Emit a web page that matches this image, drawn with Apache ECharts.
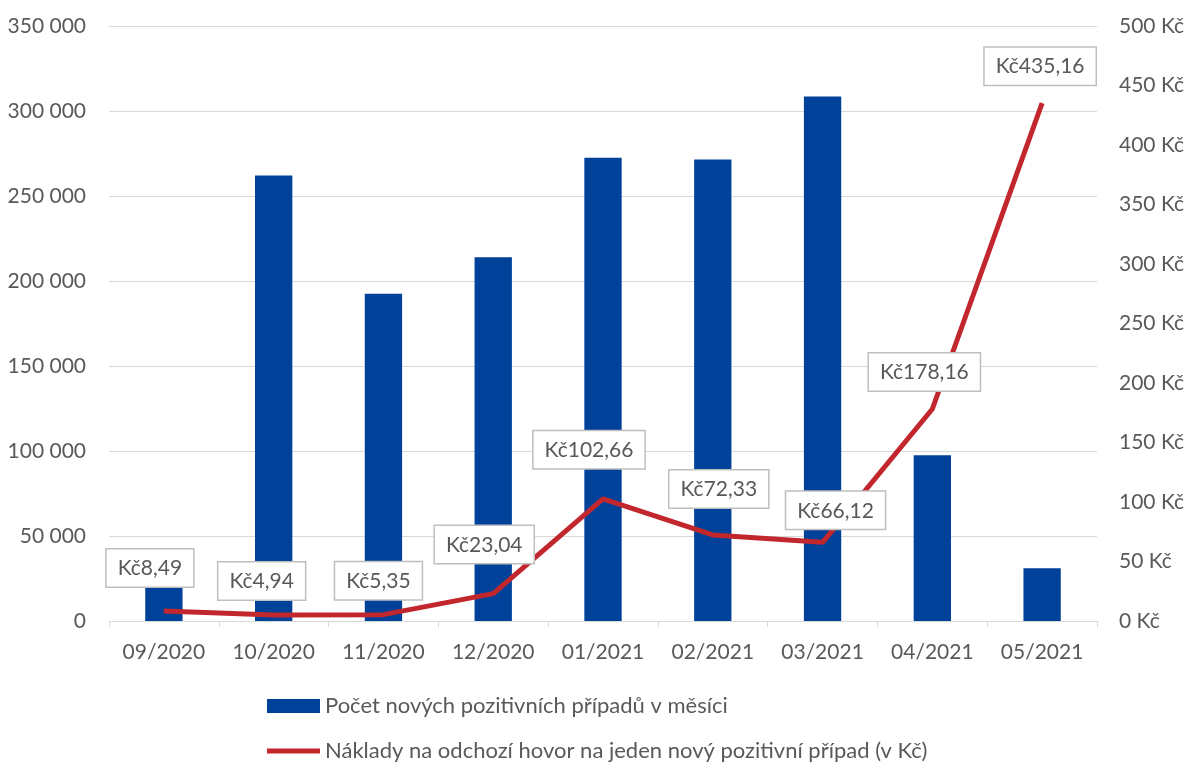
<!DOCTYPE html>
<html>
<head>
<meta charset="utf-8">
<script src="https://cdn.jsdelivr.net/npm/echarts@6/dist/echarts.min.js"></script>
<style>html,body{margin:0;padding:0;background:#fff}#c{width:1189px;height:764px}</style>
</head>
<body>
<div id="c"></div>
<script>
var categories = ['09/2020','10/2020','11/2020','12/2020','01/2021','02/2021','03/2021','04/2021','05/2021'];
var cases = [22000, 262000, 192500, 214000, 272500, 271500, 308500, 97500, 31000];
var costs = [8.49, 4.94, 5.35, 23.04, 102.66, 72.33, 66.12, 178.16, 435.16];
var barName = 'Počet nových pozitivních případů v měsíci';
var lineName = 'Náklady na odchozí hovor na jeden nový pozitivní případ (v Kč)';
// manual nudges of the value-label boxes (as placed in the original)
var labelNudgeX = [-14, -12, -5, -9, -14, 6, 13, -8, -2];
var labelNudgeY = [-2, 7, 7, -8, -8, -5, 9, 4, 4];

var FONT = 'Lato';
var TXT = '#595959';
function fmtNum(v){ return String(v).replace(/\B(?=(\d{3})+(?!\d))/g, ' '); }
function fmtKc(v){ return 'Kč' + v.toFixed(2).replace('.', ','); }

var lineData = costs.map(function(v, i){
  return {value: v, label: {offset: [labelNudgeX[i], labelNudgeY[i]]}};
});

var legendText = {fontFamily: FONT, fontSize: 22, lineHeight: 24, color: TXT};

var chart = echarts.init(document.getElementById('c'));
chart.setOption({
  animation: false,
  textStyle: {fontFamily: FONT},
  grid: {left: 109, right: 92, top: 26, bottom: 143},
  legend: [
    {
      left: 267, top: 694, itemWidth: 53, itemHeight: 14, padding: 0,
      textStyle: legendText,
      data: [{name: barName, icon: 'rect'}]
    },
    {
      left: 267, top: 739, itemWidth: 53, itemHeight: 14, padding: 0,
      textStyle: legendText,
      data: [{name: lineName, icon: 'path://M0,0 L53,0 L53,5 L0,5 Z'}]
    }
  ],
  xAxis: {
    type: 'category', data: categories,
    axisLine: {lineStyle: {color: '#d9d9d9', width: 1}},
    axisTick: {show: true, length: 6, lineStyle: {color: '#d9d9d9'}},
    axisLabel: {fontFamily: FONT, fontSize: 21, color: TXT, margin: 21}
  },
  yAxis: [
    {
      type: 'value', min: 0, max: 350000, interval: 50000,
      axisLine: {show: false}, axisTick: {show: false},
      splitLine: {lineStyle: {color: '#d9d9d9', width: 1}},
      axisLabel: {fontFamily: FONT, fontSize: 21, color: TXT, margin: 23, formatter: fmtNum}
    },
    {
      type: 'value', min: 0, max: 500, interval: 50,
      axisLine: {show: false}, axisTick: {show: false},
      splitLine: {show: false},
      axisLabel: {fontFamily: FONT, fontSize: 21, color: TXT, margin: 22, formatter: function(v){return v + ' Kč';}}
    }
  ],
  series: [
    {
      name: barName, type: 'bar', data: cases, yAxisIndex: 0,
      barWidth: '34%',
      itemStyle: {color: '#00419A'}
    },
    {
      name: lineName, type: 'line', data: lineData, yAxisIndex: 1,
      symbol: 'circle', symbolSize: 1, showSymbol: true,
      lineStyle: {color: '#C1272D', width: 5},
      itemStyle: {color: '#C1272D'},
      label: {
        show: true, position: 'top', distance: 22,
        formatter: function(p){ return fmtKc(p.value); },
        fontFamily: FONT, fontSize: 21, color: TXT, lineHeight: 22,
        backgroundColor: '#fff', borderColor: '#bfbfbf', borderWidth: 1.5,
        padding: [8, 11, 7, 11]
      }
    }
  ]
});
</script>
</body>
</html>
